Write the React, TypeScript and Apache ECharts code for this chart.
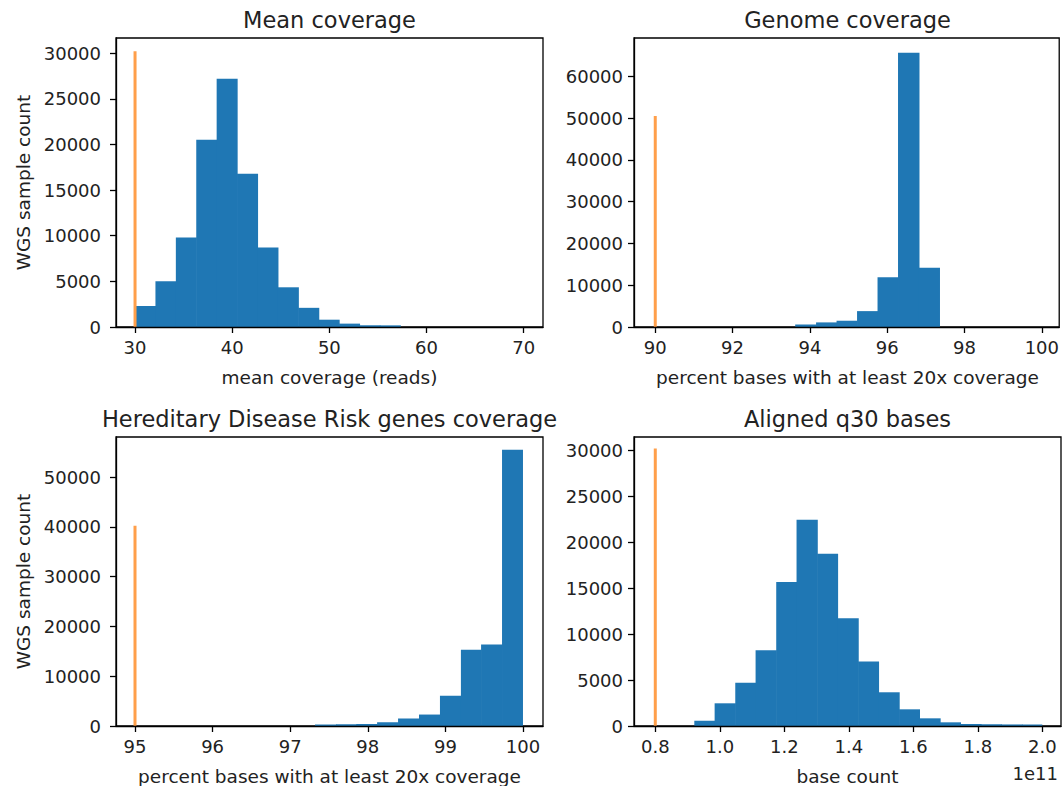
import React, { useEffect, useRef } from "react";
import * as echarts from "echarts";

// ---- Panel 1: Mean coverage ----
const meanEdges = [30.0, 32.1, 34.2, 36.3, 38.4, 40.5, 42.6, 44.7, 46.8, 48.9, 51.0, 53.1, 55.2, 57.3, 59.4, 61.5, 63.6, 65.7, 67.8, 69.9];
const meanCounts = [2300, 5000, 9800, 20500, 27200, 16800, 8700, 4350, 2100, 800, 370, 190, 180, 0, 0, 0, 0, 0, 0];
const meanThreshold = 30;
const meanThresholdHeight = 30200;
const meanXTicks = [30, 40, 50, 60, 70];
const meanYTicks = [0, 5000, 10000, 15000, 20000, 25000, 30000];

// ---- Panel 2: Genome coverage ----
const genomeEdges = [89.9, 90.43, 90.96, 91.5, 92.03, 92.56, 93.09, 93.62, 94.16, 94.69, 95.22, 95.75, 96.28, 96.82, 97.35, 97.88, 98.41, 98.94, 99.47, 100.0];
const genomeCounts = [0, 0, 0, 0, 0, 0, 0, 600, 1100, 1500, 3800, 11900, 65600, 14150, 0, 0, 0, 0, 0];
const genomeThreshold = 90;
const genomeThresholdHeight = 50500;
const genomeXTicks = [90, 92, 94, 96, 98, 100];
const genomeYTicks = [0, 10000, 20000, 30000, 40000, 50000, 60000];

// ---- Panel 3: Hereditary Disease Risk genes coverage ----
const hdrEdges = [94.9, 95.17, 95.44, 95.71, 95.97, 96.24, 96.51, 96.78, 97.05, 97.32, 97.59, 97.85, 98.12, 98.39, 98.66, 98.93, 99.2, 99.46, 99.73, 100.0];
const hdrCounts = [0, 0, 0, 0, 0, 0, 0, 0, 0, 300, 350, 400, 740, 1500, 2300, 6100, 15300, 16350, 55500];
const hdrThreshold = 95;
const hdrThresholdHeight = 40200;
const hdrXTicks = [95, 96, 97, 98, 99, 100];
const hdrYTicks = [0, 10000, 20000, 30000, 40000, 50000];

// ---- Panel 4: Aligned q30 bases (units of 1e11) ----
const q30Edges = [0.794, 0.857, 0.921, 0.984, 1.048, 1.111, 1.175, 1.238, 1.302, 1.365, 1.429, 1.492, 1.556, 1.619, 1.683, 1.746, 1.81, 1.873, 1.937, 2.0];
const q30Counts = [0, 0, 580, 2470, 4720, 8245, 15660, 22450, 18740, 11730, 7010, 3670, 1815, 835, 400, 220, 180, 170, 150];
const q30Threshold = 0.8;
const q30ThresholdHeight = 30200;
const q30XTicks = [0.8, 1.0, 1.2, 1.4, 1.6, 1.8, 2.0];
const q30YTicks = [0, 5000, 10000, 15000, 20000, 25000, 30000];

const titles = ["Mean coverage", "Genome coverage", "Hereditary Disease Risk genes coverage", "Aligned q30 bases"];
const xNames = ["mean coverage (reads)", "percent bases with at least 20x coverage", "percent bases with at least 20x coverage", "base count"];
const yName = "WGS sample count";

const FONT = "DejaVu Sans, Noto Sans, sans-serif";
const TXT = "#222";
const BLUE = "#1f77b4";
const ORANGE = "#ff9f4a";

export default function App() {
  const ref = useRef<HTMLDivElement>(null);
  useEffect(() => {
    if (!ref.current) return;
    const chart = echarts.init(ref.current, null, { renderer: "svg" });

    const panels = [
      { edges: meanEdges, counts: meanCounts, thr: meanThreshold, thrH: meanThresholdHeight, xt: meanXTicks, yt: meanYTicks, xmin: 28.04, xmax: 71.99, ymax: 31660, left: 116, top: 38, lm: 15, fmt: (v: number) => String(v) },
      { edges: genomeEdges, counts: genomeCounts, thr: genomeThreshold, thrH: genomeThresholdHeight, xt: genomeXTicks, yt: genomeYTicks, xmin: 89.45, xmax: 100.45, ymax: 69140, left: 634, top: 38, lm: 11, fmt: (v: number) => String(v) },
      { edges: hdrEdges, counts: hdrCounts, thr: hdrThreshold, thrH: hdrThresholdHeight, xt: hdrXTicks, yt: hdrYTicks, xmin: 94.755, xmax: 100.258, ymax: 58040, left: 116, top: 437, lm: 15, fmt: (v: number) => String(v) },
      { edges: q30Edges, counts: q30Counts, thr: q30Threshold, thrH: q30ThresholdHeight, xt: q30XTicks, yt: q30YTicks, xmin: 0.734, xmax: 2.058, ymax: 31450, left: 634, top: 437, lm: 11, fmt: (v: number) => v.toFixed(1) },
    ];

    const W = 427, H = 289;
    const grid: any[] = [];
    const xAxis: any[] = [];
    const yAxis: any[] = [];
    const series: any[] = [];
    const graphic: any[] = [];

    panels.forEach((p, i) => {
      grid.push({ left: p.left, top: p.top, width: W, height: H, show: true, borderColor: "#000", borderWidth: 1.3, backgroundColor: "transparent", containLabel: false });
      xAxis.push({
        type: "value", gridIndex: i, min: p.xmin, max: p.xmax, z: 5,
        splitLine: { show: false },
        axisLine: { show: true, onZero: false, lineStyle: { color: "#000", width: 1.3 } },
        axisTick: { show: true, customValues: p.xt, length: 6, lineStyle: { color: "#000", width: 1.3 } },
        axisLabel: { customValues: p.xt, formatter: p.fmt, color: TXT, fontFamily: FONT, fontSize: 18, margin: 11, showMinLabel: true, showMaxLabel: true },
      });
      yAxis.push({
        type: "value", gridIndex: i, min: 0, max: p.ymax, z: 5,
        splitLine: { show: false },
        axisLine: { show: true, onZero: false, lineStyle: { color: "#000", width: 1.3 } },
        axisTick: { show: true, customValues: p.yt, length: 6, lineStyle: { color: "#000", width: 1.3 } },
        axisLabel: { customValues: p.yt, formatter: (v: number) => String(v), color: TXT, fontFamily: FONT, fontSize: 18, margin: p.lm, showMinLabel: true, showMaxLabel: true },
      });
      const data = p.counts.map((c, k) => [p.edges[k], p.edges[k + 1], c]);
      const n = data.length;
      series.push({
        type: "custom", xAxisIndex: i, yAxisIndex: i, z: 2,
        data,
        encode: { x: [0, 1], y: 2 },
        renderItem: (params: any, api: any) => {
          const x0 = api.value(0), x1 = api.value(1), c = api.value(2);
          if (!c) return null;
          const a = api.coord([x0, c]);
          const b = api.coord([x1, 0]);
          const overlap = params.dataIndex < n - 1 ? 0.6 : 0;
          return {
            type: "rect",
            shape: { x: a[0], y: a[1], width: b[0] - a[0] + overlap, height: b[1] - a[1] },
            style: { fill: BLUE },
          };
        },
        clip: true,
      });
      series.push({
        type: "line", xAxisIndex: i, yAxisIndex: i, z: 3,
        data: [[p.thr, 0], [p.thr, p.thrH]],
        symbol: "none",
        lineStyle: { color: ORANGE, width: 3, cap: "butt" },
      });
      const cx = p.left + W / 2;
      graphic.push({ type: "text", x: cx, y: p.top - 18, style: { text: titles[i], font: `22.5px ${FONT}`, fill: TXT, align: "center", verticalAlign: "middle" } });
      graphic.push({ type: "text", x: cx, y: p.top + H + 50, style: { text: xNames[i], font: `18.5px ${FONT}`, fill: TXT, align: "center", verticalAlign: "middle" } });
      if (i % 2 === 0) {
        graphic.push({ type: "text", x: 23, y: p.top + H / 2, rotation: Math.PI / 2, style: { text: yName, font: `18.5px ${FONT}`, fill: TXT, align: "center", verticalAlign: "middle" } });
      }
    });
    graphic.push({ type: "text", x: 1058, y: 773, style: { text: "1e11", font: `18px ${FONT}`, fill: TXT, align: "right", verticalAlign: "middle" } });

    chart.setOption({
      animation: false,
      backgroundColor: "#fff",
      grid, xAxis, yAxis, series, graphic,
    });
    return () => chart.dispose();
  }, []);
  return <div ref={ref} style={{ position: "fixed", left: 0, top: 0, width: 1062, height: 786 }} />;
}
